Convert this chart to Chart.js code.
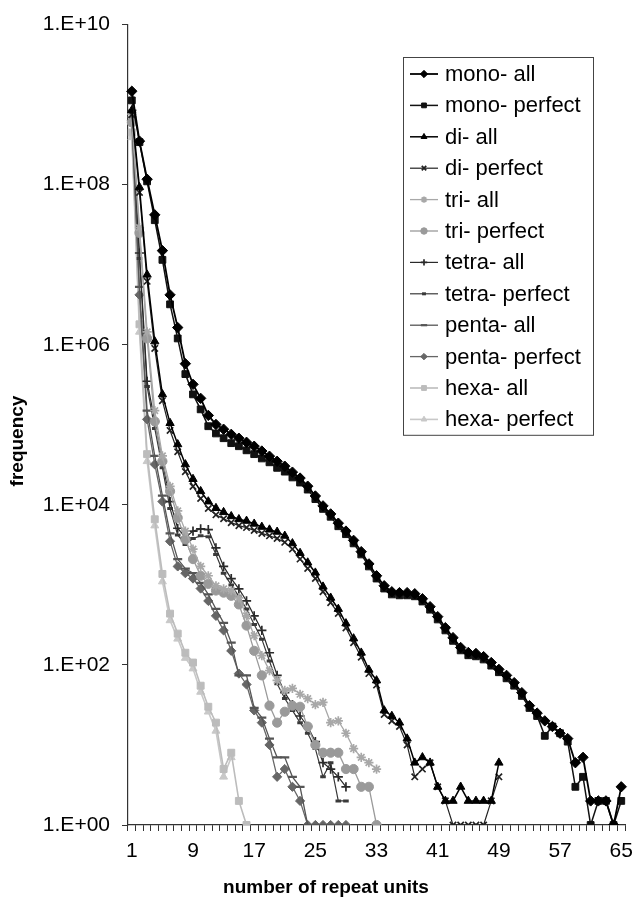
<!DOCTYPE html>
<html>
<head>
<meta charset="utf-8">
<script src="https://cdn.jsdelivr.net/npm/chart.js@4"></script>
<style>
  body { margin: 0; background: #fff; }
  #wrap { width: 641px; height: 902px; }
</style>
</head>
<body>
<div id="wrap"><canvas id="repeatChart" width="641" height="902"></canvas></div>
<script>
// repeat units 1..65
const repeatUnits = Array.from({ length: 65 }, (_, i) => String(i + 1));
const yTickExponents = [0, 2, 4, 6, 8, 10];

const monoAll = [1.47e9, 3.5e8, 1.17e8, 4.2e7, 1.5e7, 4.2e6, 1.64e6, 5.8e5, 3.2e5, 2.14e5,
  1.31e5, 1.01e5, 8.8e4, 7.6e4, 6.8e4, 6.05e4, 5.4e4, 4.7e4, 4.05e4, 3.5e4,
  3.04e4, 2.56e4, 2.16e4, 1.71e4, 1.29e4, 9.7e3, 7.7e3, 5.9e3, 4.7e3, 3.6e3,
  2.6e3, 1.83e3, 1.3e3, 975, 820, 800, 800, 775, 671, 534,
  401, 292, 219, 165, 143, 139, 127, 107, 88, 74,
  60, 45, 31, 25, 20, 17, 14, 12, 6, 7,
  2, 2, 2, 1, 3];
const monoPerfect = [1.13e9, 3.4e8, 1.1e8, 3.6e7, 1.15e7, 3.2e6, 1.2e6, 4.3e5, 2.4e5, 1.56e5,
  9.6e4, 7.8e4, 6.8e4, 5.9e4, 5.4e4, 4.8e4, 4.3e4, 3.8e4, 3.4e4, 2.9e4,
  2.6e4, 2.2e4, 1.9e4, 1.55e4, 1.18e4, 8.9e3, 7.1e3, 5.4e3, 4.3e3, 3.3e3,
  2.4e3, 1.7e3, 1.2e3, 900, 760, 740, 740, 720, 620, 490,
  370, 270, 200, 152, 132, 128, 117, 98, 81, 68,
  55, 41, 29, 23, 13, 17, 14, 11, 3, 4,
  1, 2, 2, 1, 2];
const diAll = [8.5e8, 9.3e7, 7.5e6, 1.1e6, 2.4e5, 1.05e5, 5.7e4, 3.2e4, 2.1e4, 1.48e4,
  1.1e4, 9.1e3, 8.1e3, 7.2e3, 6.6e3, 6.3e3, 5.8e3, 5.3e3, 4.9e3, 4.6e3,
  4.1e3, 3.3e3, 2.5e3, 1.9e3, 1.42e3, 950, 690, 500, 330, 214,
  142, 87, 64, 27, 23, 19, 12, 6, 7, 6,
  3, 2, 2, 3, 2, 2, 2, 2, 6];
const diPerfect = [7.5e8, 8e7, 6.2e6, 9e5, 2e5, 8.5e4, 4.6e4, 2.6e4, 1.7e4, 1.2e4,
  9e3, 7.5e3, 6.7e3, 6.0e3, 5.5e3, 5.2e3, 4.8e3, 4.4e3, 4.1e3, 3.8e3,
  3.4e3, 2.8e3, 2.1e3, 1.6e3, 1.2e3, 820, 600, 440, 290, 190,
  125, 78, 56, 24, 20, 17, 10, 4, 5, 6,
  3, 2, 1, 1, 1, 1, 1, 2, 4];
const triAll = [7.6e8, 2.9e7, 1.45e6, 1.5e5, 4.1e4, 1.7e4, 8.4e3, 4.7e3, 2.8e3, 1.7e3,
  1.3e3, 970, 890, 850, 690, 410, 232, 131, 85, 64,
  48, 51, 43, 38, 32, 34, 19, 20, 14, 9,
  7, 6, 5];
const triPerfect = [6e8, 2.5e7, 1.2e6, 1.1e5, 3.5e4, 1.48e4, 6.9e3, 3.7e3, 2.1e3, 1.3e3,
  1.03e3, 850, 800, 730, 570, 310, 150, 74, 31, 19,
  26, 31, 30, 17, 10, 8, 8, 8, 5, 5,
  3, 3, 1];
const tetraAll = [8.5e8, 1.4e7, 3.5e5, 1.1e5, 3.5e4, 1.1e4, 5.1e3, 3.9e3, 4.7e3, 5.0e3,
  4.9e3, 2.9e3, 1.7e3, 1.2e3, 890, 630, 410, 270, 142, 74,
  45, 32, 23, 17, 11, 6, 5, 4, 3];
const tetraPerfect = [8e8, 1.2e7, 3e5, 9e4, 2.9e4, 9e3, 4.2e3, 3.2e3, 3.8e3, 4.1e3,
  4.0e3, 2.4e3, 1.4e3, 1.0e3, 720, 500, 320, 210, 112, 58,
  38, 27, 19, 14, 9, 4, 6, 2, 2];
const pentaAll = [7e8, 5.3e6, 1.5e5, 4.1e4, 1.3e4, 4.4e3, 2.1e3, 1.6e3, 1.4e3, 1.06e3,
  760, 500, 335, 190, 74, 74, 29, 22, 12, 7,
  7, 4, 3, 1, 1, 1, 1, 1, 1];
const pentaPerfect = [6.3e8, 4.2e6, 1.17e5, 3.2e4, 1.1e4, 3.5e3, 1.7e3, 1.4e3, 1.2e3, 900,
  630, 410, 270, 150, 78, 57, 27, 19, 10, 4,
  5, 3, 2, 1, 1, 1, 1, 1, 1];
const hexaAll = [4.5e8, 1.8e6, 4.3e4, 6.6e3, 1.37e3, 437, 246, 142, 107, 55,
  30, 19, 5, 8, 2, 1];
const hexaPerfect = [3.9e8, 1.45e6, 3.5e4, 5.5e3, 1.1e3, 360, 212, 122, 90, 46,
  26, 15, 4, 7];

const FONT = "'Liberation Sans', Arial, sans-serif";

function series(label, data, color, pointStyle, radius, lineWidth, filled) {
  return {
    label,
    data,
    borderColor: color,
    backgroundColor: color,
    pointBackgroundColor: filled ? color : "rgba(0,0,0,0)",
    pointBorderColor: color,
    pointStyle,
    pointRadius: radius,
    pointBorderWidth: filled ? 1 : 1.7,
    borderWidth: lineWidth,
    tension: 0,
    fill: false
  };
}

const datasets = [
  series("mono- all", monoAll, "#000000", "rectRot", 5.2, 1.8, true),
  series("mono- perfect", monoPerfect, "#111111", "rect", 4.8, 1.5, true),
  series("di- all", diAll, "#000000", "triangle", 4.8, 1.5, true),
  series("di- perfect", diPerfect, "#222222", "crossRot", 4.5, 1.2, false),
  series("tri- all", triAll, "#a8a8a8", "star", 4.6, 1.3, false),
  series("tri- perfect", triPerfect, "#9a9a9a", "circle", 4.6, 1.3, true),
  series("tetra- all", tetraAll, "#2a2a2a", "cross", 4.6, 1.2, false),
  series("tetra- perfect", tetraPerfect, "#3a3a3a", "line", 2.8, 1.2, false),
  series("penta- all", pentaAll, "#555555", "line", 4.5, 1.3, false),
  series("penta- perfect", pentaPerfect, "#666666", "rectRot", 4.6, 1.3, true),
  series("hexa- all", hexaAll, "#bcbcbc", "rect", 4.9, 1.6, true),
  series("hexa- perfect", hexaPerfect, "#c8c8c8", "triangle", 4.6, 1.6, true)
];
datasets[7].pointBorderWidth = 3;
datasets[8].pointBorderWidth = 2.2;

// legend box drawn by hand (line sample + marker, like the spreadsheet legend)
const boxLegend = {
  id: "boxLegend",
  afterDraw(chart) {
    const ctx = chart.ctx;
    const left = 403, top = 57, width = 190, rowH = 31.4;
    const height = rowH * datasets.length + 1;
    ctx.save();
    ctx.fillStyle = "#fff";
    ctx.fillRect(left, top, width, height);
    ctx.strokeStyle = "#444";
    ctx.lineWidth = 1;
    ctx.strokeRect(left + 0.5, top + 0.5, width, height);
    ctx.font = "22px " + FONT;
    ctx.textBaseline = "middle";
    datasets.forEach((ds, i) => {
      const y = top + 17 + i * rowH;
      ctx.strokeStyle = ds.borderColor;
      ctx.lineWidth = ds.borderWidth;
      ctx.beginPath();
      ctx.moveTo(410, y);
      ctx.lineTo(438, y);
      ctx.stroke();
      ctx.fillStyle = ds.pointBackgroundColor;
      ctx.strokeStyle = ds.pointBorderColor;
      ctx.lineWidth = ds.pointBorderWidth;
      Chart.helpers.drawPoint(ctx, {
        pointStyle: ds.pointStyle,
        radius: ds.pointRadius * 0.7,
        rotation: 0,
        borderWidth: ds.pointBorderWidth
      }, 424, y);
      ctx.fillStyle = "#000";
      ctx.fillText(ds.label, 445, y + 1);
    });
    ctx.restore();
  }
};

// axis titles sit where the spreadsheet put them, not on the plot centre
const axisTitles = {
  id: "axisTitles",
  afterDraw(chart) {
    const ctx = chart.ctx;
    ctx.save();
    ctx.fillStyle = "#000";
    ctx.font = "bold 19px " + FONT;
    ctx.textAlign = "center";
    ctx.textBaseline = "middle";
    ctx.fillText("number of repeat units", 326, 888);
    ctx.translate(18, 441);
    ctx.rotate(-Math.PI / 2);
    ctx.fillText("frequency", 0, 0);
    ctx.restore();
  }
};

const ctx = document.getElementById("repeatChart").getContext("2d");
new Chart(ctx, {
  type: "line",
  data: { labels: repeatUnits, datasets },
  plugins: [boxLegend, axisTitles],
  options: {
    responsive: false,
    animation: false,
    devicePixelRatio: 1,
    layout: { padding: { top: 22, right: 9, left: 0, bottom: 0 } },
    plugins: {
      legend: { display: false },
      tooltip: { enabled: false }
    },
    scales: {
      x: {
        type: "category",
        offset: true,
        afterFit: scale => { scale.height = 77; },
        grid: {
          offset: true,
          drawOnChartArea: false,
          drawTicks: true,
          tickLength: 6,
          color: "#333"
        },
        border: { color: "#333", width: 1.2 },
        ticks: {
          autoSkip: false,
          maxRotation: 0,
          padding: 8,
          color: "#000",
          font: { family: FONT, size: 21 },
          callback: (value, index) => (index % 8 === 0 ? repeatUnits[index] : "")
        }
      },
      y: {
        type: "logarithmic",
        min: 1,
        max: 1e10,
        afterFit: scale => { scale.width = 128; },
        afterBuildTicks: scale => {
          scale.ticks = yTickExponents.map(e => ({ value: Math.pow(10, e) }));
        },
        grid: {
          drawOnChartArea: false,
          drawTicks: true,
          tickLength: 6,
          color: "#333"
        },
        border: { color: "#333", width: 1.2 },
        ticks: {
          padding: 12,
          color: "#000",
          font: { family: FONT, size: 21 },
          callback: value => "1.E+" + String(Math.round(Math.log10(value))).padStart(2, "0")
        }
      }
    }
  }
});
</script>
</body>
</html>
